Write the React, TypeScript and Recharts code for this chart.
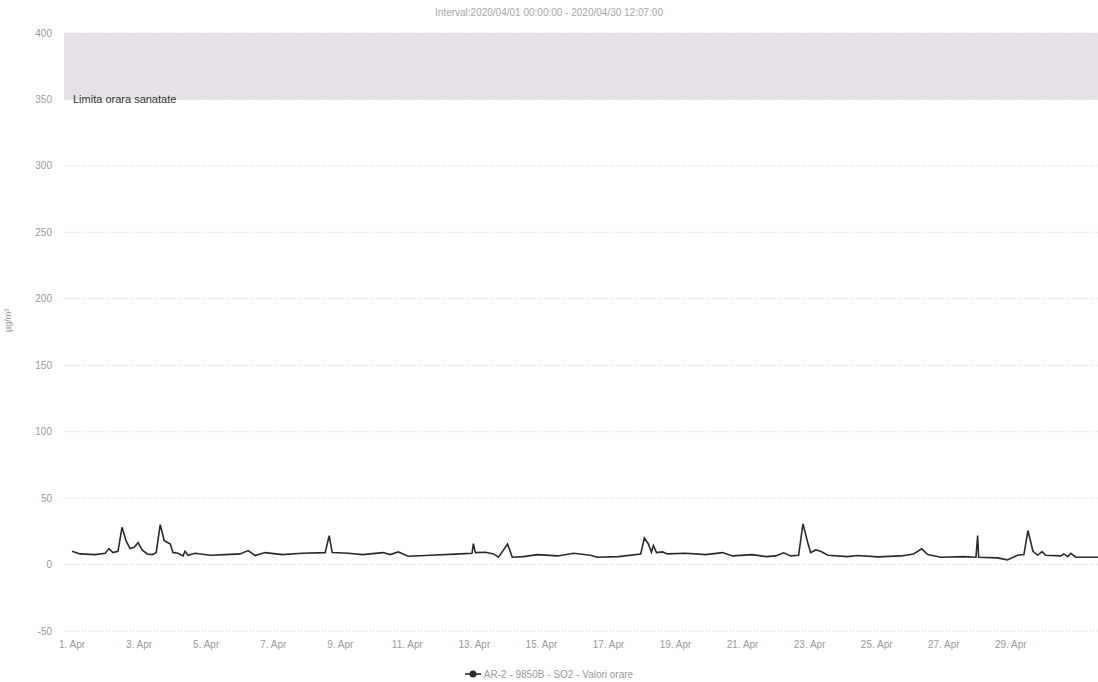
import { LineChart, Line, XAxis, YAxis, CartesianGrid, ReferenceArea } from 'recharts';

// days since 2020/04/01 00:00 and hourly SO2 values (µg/m³)
const dayOffsets = [
    0, 0.24, 0.69, 0.99, 1.1, 1.22, 1.37, 1.49, 1.61, 1.73, 1.85, 1.97, 2.09, 2.24, 2.39, 2.51, 2.63, 2.75, 2.93, 3.01,
    3.16, 3.31, 3.37, 3.46, 3.67, 4.12, 4.57, 5.01, 5.25, 5.46, 5.76, 6.27, 6.87, 7.55, 7.67, 7.76, 8.24, 8.66, 9.28, 9.49,
    9.73, 10.03, 10.69, 11.58, 11.93, 11.97, 12.03, 12.33, 12.57, 12.72, 12.99, 13.13, 13.46, 13.88, 14.48, 14.96, 15.46, 15.67, 16.3, 16.96, 17.07,
    17.19, 17.28, 17.34, 17.43, 17.61, 17.76, 18.3, 18.9, 19.4, 19.7, 20.3, 20.69, 20.99, 21.22, 21.43, 21.67, 21.8, 21.94, 22.03, 22.18,
    22.33, 22.54, 23.13, 23.43, 24.03, 24.72, 25.1, 25.34, 25.52, 25.91, 26.6, 26.96, 27.01, 27.04, 27.6, 27.9, 28.2, 28.39, 28.51, 28.66,
    28.8, 28.93, 29.04, 29.49, 29.58, 29.7, 29.79, 29.94, 30.6
];
const so2Values = [
    10, 8, 7.5, 8.5, 12, 9, 10, 28, 18, 12, 13, 16.5, 11, 8, 7.5, 9, 30, 18, 15.5, 9,
    8.5, 6.5, 10, 7, 8.5, 7, 7.5, 8, 10.5, 6.8, 9, 7.5, 8.5, 9, 21.8, 9, 8.5, 7.5, 9, 7.5,
    9.5, 6.2, 7, 8, 8.5, 15.8, 9, 9.3, 8, 5.5, 15.5, 5.5, 6, 7.5, 6.5, 8.5, 7, 5.5, 6, 8, 20,
    15.5, 9.3, 14.3, 9, 9.5, 8, 8.5, 7.5, 9, 6.5, 7.5, 6, 6.5, 8.8, 6.5, 7, 30.6, 16.8, 9, 11,
    10, 7, 6, 6.8, 5.8, 6.5, 8, 11.8, 7.5, 5.5, 6, 5.5, 21.8, 5.5, 5, 3.5, 7, 7.5, 25.6, 10,
    7, 9.8, 7, 6.5, 8, 6, 8.5, 5.5, 5.5
];

const tickDays = [0, 2, 4, 6, 8, 10, 12, 14, 16, 18, 20, 22, 24, 26, 28];
const tickLabels = ['1. Apr', '3. Apr', '5. Apr', '7. Apr', '9. Apr', '11. Apr', '13. Apr', '15. Apr', '17. Apr', '19. Apr', '21. Apr', '23. Apr', '25. Apr', '27. Apr', '29. Apr'];
const yTicks = [-50, 0, 50, 100, 150, 200, 250, 300, 350, 400];

const limitFrom = 350;
const limitTo = 400;
const limitLabel = 'Limita orara sanatate';
const titleText = 'Interval:2020/04/01 00:00:00 - 2020/04/30 12:07:00';
const seriesName = 'AR-2 - 9850B - SO2 - Valori orare';

const data = dayOffsets.map((t, i) => ({ t, value: so2Values[i] }));

const font = '"Liberation Sans", Arial, sans-serif';

export default function App() {
    return (
        <div style={{ position: 'absolute', left: 0, top: 0, width: 1098, height: 682, background: '#fff', fontFamily: font }}>
            {/* title */}
            <div style={{ position: 'absolute', top: 7, left: 0, width: 1098, textAlign: 'center', fontSize: 10, color: '#a8a8a8' }}>
                {titleText}
            </div>

            <LineChart width={1098} height={682} data={data} margin={{ top: 33, right: 0, bottom: 21, left: 0 }}>
                <CartesianGrid horizontal vertical={false} stroke="#cfcfcf" strokeDasharray="1 2" />
                <ReferenceArea
                    y1={limitFrom}
                    y2={limitTo}
                    fill="#e6e1e7"
                    fillOpacity={1}
                    stroke="none"
                    label={(props: any) => {
                        const vb = props.viewBox || {};
                        return (
                            <text x={vb.x + 9} y={vb.y + vb.height + 4} fontSize={11} fill="#333" fontFamily={font}>
                                {limitLabel}
                            </text>
                        );
                    }}
                />
                <XAxis
                    dataKey="t"
                    type="number"
                    domain={[-0.24, 30.6]}
                    ticks={tickDays}
                    tickFormatter={(v: number) => tickLabels[tickDays.indexOf(v)] ?? ''}
                    axisLine={false}
                    tickLine={false}
                    tickSize={0}
                    tickMargin={10}
                    height={30}
                    tick={{ fontSize: 10, fill: '#9a9a9a', fontFamily: font }}
                    interval={0}
                />
                <YAxis
                    type="number"
                    domain={[-50, 400]}
                    ticks={yTicks}
                    width={64}
                    axisLine={false}
                    tickLine={false}
                    tickSize={0}
                    tickMargin={12}
                    tick={{ fontSize: 10, fill: '#9a9a9a', fontFamily: font }}
                    label={{ value: 'µg/m³', angle: -90, position: 'insideLeft', offset: 8, fontSize: 9, fill: '#9a9a9a', fontFamily: font }}
                />
                <Line
                    type="linear"
                    dataKey="value"
                    stroke="#2a2a2a"
                    strokeWidth={1.6}
                    dot={false}
                    isAnimationActive={false}
                />
            </LineChart>

            {/* legend */}
            <div style={{ position: 'absolute', top: 668, left: 0, width: 1098, textAlign: 'center', fontSize: 10, color: '#9a9a9a' }}>
                <svg width={16} height={10} style={{ verticalAlign: 'middle', marginRight: 3 }}>
                    <line x1={0} y1={5} x2={16} y2={5} stroke="#2a2a2a" strokeWidth={1.6} />
                    <circle cx={8} cy={5} r={3.5} fill="#2a2a2a" />
                </svg>
                <span style={{ verticalAlign: 'middle' }}>{seriesName}</span>
            </div>
        </div>
    );
}
